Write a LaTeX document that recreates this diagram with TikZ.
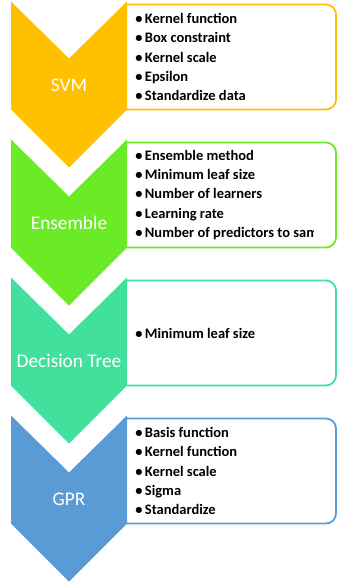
\documentclass[tikz,border=0pt]{standalone}
\usepackage{fontspec}
\setmainfont{Carlito}
\usetikzlibrary{positioning}
\definecolor{svmgold}{HTML}{FFC000}
\definecolor{ensgreen}{HTML}{6BEB25}
\definecolor{treemint}{HTML}{41E19D}
\definecolor{gprblue}{HTML}{5B9BD5}
\tikzset{
  pbox/.style={draw=#1, fill=white, line width=1.8bp, rounded corners=10bp, minimum width=226bp, minimum height=105bp, inner sep=0pt},
  plist/.style={font=\fontsize{14.5bp}{19.3bp}\selectfont\bfseries, align=left, anchor=west, inner sep=0pt},
  mlabel/.style={text=white, font=\fontsize{19.3bp}{21bp}\selectfont, inner sep=0pt},
}

\begin{document}
\begin{tikzpicture}[x=1bp,y=-1bp]
  \useasboundingbox (0,0) rectangle (337,584);
  % parameter boxes, cut off where the chevrons start
  \begin{scope}
    \clip (127,0) rectangle (338,584);
    \node[pbox=svmgold]  (svmbox)  at (223,57)  {};
    \node[pbox=ensgreen] (ensbox)  at (223,195) {};
    \node[pbox=treemint] (treebox) at (223,333) {};
    \node[pbox=gprblue]  (gprbox)  at (223,471) {};
  \end{scope}
  % chevrons
  \fill[svmgold]  (11,1.5) -- (69,58.5) -- (127,1.5) -- (127,109.5) -- (69,167.5) -- (11,109.5) -- cycle;
  \fill[ensgreen] (11,139.5) -- (69,196.5) -- (127,139.5) -- (127,247.5) -- (69,305.5) -- (11,247.5) -- cycle;
  \fill[treemint] (11,277.5) -- (69,334.5) -- (127,277.5) -- (127,385.5) -- (69,443.5) -- (11,385.5) -- cycle;
  \fill[gprblue]  (11,415.5) -- (69,472.5) -- (127,415.5) -- (127,523.5) -- (69,581.5) -- (11,523.5) -- cycle;
  \node[mlabel] (svm)  at (69,85)  {SVM};
  \node[mlabel] (ens)  at (69,223) {Ensemble};
  \node[mlabel] (tree) at (69,361) {Decision Tree};
  \node[mlabel] (gpr)  at (69,499) {GPR};
  % hyperparameter lists
  \node[plist, right=26bp of svmbox.west] (svmpar)
    {\textbullet\,Kernel function\\ \textbullet\,Box constraint\\ \textbullet\,Kernel scale\\ \textbullet\,Epsilon\\ \textbullet\,Standardize data};
  \begin{scope}
    \clip (127,139.5) rectangle (313.5,250);
    \node[plist, right=26bp of ensbox.west] (enspar)
      {\textbullet\,Ensemble method\\ \textbullet\,Minimum leaf size\\ \textbullet\,Number of learners\\ \textbullet\,Learning rate\\ \textbullet\,Number of predictors to sample};
  \end{scope}
  \node[plist, right=26bp of treebox.west] (treepar) {\textbullet\,Minimum leaf size};
  \node[plist, right=26bp of gprbox.west] (gprpar)
    {\textbullet\,Basis function\\ \textbullet\,Kernel function\\ \textbullet\,Kernel scale\\ \textbullet\,Sigma\\ \textbullet\,Standardize};
\end{tikzpicture}
\end{document}
